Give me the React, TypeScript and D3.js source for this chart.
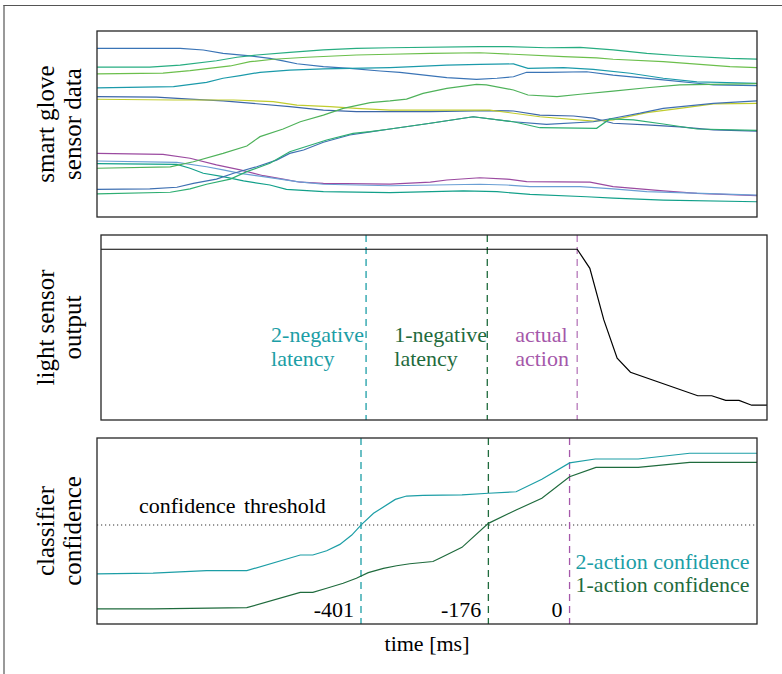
import React from 'react';
import * as d3 from 'd3';

// x of every panel is a frame index 0..100 across the recording window
// event markers (2-negative, 1-negative, actual action) differ a bit per panel
const lightEventFrames = [39.8, 58.0, 71.5];
const confEventFrames = [40.0, 59.3, 71.6];
const eventLabels = ['-401', '-176', '0'];
const eventNames = [['2-negative', 'latency'], ['1-negative', 'latency'], ['actual', 'action']];
const eventColors = ['#1c9ea6', '#1f6b3d', '#a558aa'];

// smart glove sensors, [frame, value 0..100]
const glove1 = [[0, 90.7], [12.6, 90.7], [16.1, 89.8], [19.1, 88.0], [23.2, 86.6], [26.2, 85.3], [28.2, 83.9], [30.3, 82.4], [34.3, 80.8], [38.3, 79.9], [42.9, 78.5], [45.9, 77.8], [53.0, 74.9], [57.5, 74.0], [60.6, 74.6], [63.1, 75.4], [65.1, 77.8], [68.1, 77.8], [74.2, 78.1], [78.2, 76.3], [85.8, 73.7], [90.9, 71.9], [93.4, 71.0], [100, 70.6]];
const glove2 = [[0, 80.6], [8.0, 80.6], [12.6, 81.7], [18.1, 84.0], [21.2, 85.9], [24.2, 87.1], [29.2, 88.5], [34.3, 89.8], [39.3, 90.7], [44.4, 91.0], [58.0, 91.6], [62.1, 91.6], [68.1, 91.0], [73.2, 91.2], [78.2, 89.8], [83.3, 88.0], [88.3, 86.7], [95.9, 85.3], [100, 84.9]];
const glove3 = [[0, 77.0], [10.0, 77.4], [14.1, 78.7], [20.2, 81.2], [23.2, 83.5], [26.7, 84.8], [31.8, 85.9], [39.3, 87.1], [44.4, 87.5], [50.5, 88.0], [58.0, 88.3], [63.1, 87.5], [70.7, 86.2], [75.7, 85.6], [78.2, 84.8], [85.8, 83.5], [95.9, 80.8], [100, 80.3]];
const glove4 = [[0, 69.4], [11.6, 70.1], [16.6, 72.4], [19.1, 74.6], [21.7, 76.0], [24.7, 77.8], [29.2, 79.0], [34.3, 79.6], [44.4, 80.3], [47.9, 80.8], [53.0, 81.7], [58.0, 82.1], [63.1, 82.3], [65.3, 79.9], [70.7, 80.3], [75.2, 79.4], [80.8, 77.3], [85.8, 74.6], [90.9, 72.7], [100, 71.9]];
const glove5 = [[0, 64.7], [9.0, 64.4], [14.1, 63.4], [19.1, 62.4], [24.2, 60.9], [29.2, 59.3], [34.3, 57.5], [39.3, 56.6], [50.5, 56.6], [59.5, 57.2], [63.1, 57.0], [67.1, 54.8], [72.2, 54.3], [75.2, 53.2], [78.2, 50.4], [83.3, 49.5], [88.3, 48.5], [93.4, 46.8], [100, 46.2]];
const glove6 = [[0, 63.3], [11.6, 62.9], [20.7, 62.9], [26.7, 62.0], [30.3, 60.2], [35.3, 59.3], [39.3, 58.4], [44.4, 57.5], [59.5, 57.5], [67.1, 53.9], [75.2, 51.6], [78.2, 52.2], [83.3, 56.1], [88.3, 58.4], [93.4, 60.8], [100, 61.1]];
const glove7 = [[0, 34.2], [10.0, 33.7], [14.1, 31.6], [18.1, 28.0], [21.7, 25.3], [25.2, 22.2], [28.2, 20.4], [30.8, 18.7], [34.3, 18.1], [44.4, 17.7], [50.5, 18.7], [53.0, 19.9], [58.0, 21.1], [62.1, 20.4], [65.1, 19.0], [74.7, 18.7], [78.2, 16.3], [85.8, 14.0], [90.9, 12.7], [100, 11.5]];
const glove8 = [[0, 30.1], [12.1, 29.4], [16.6, 27.0], [19.1, 25.3], [21.7, 23.5], [25.2, 21.7], [30.3, 19.0], [34.3, 17.6], [44.4, 16.8], [58.0, 17.6], [62.1, 17.2], [65.6, 16.3], [73.2, 16.3], [78.2, 15.1], [83.3, 13.6], [100, 11.8]];
const glove9 = [[0, 28.7], [12.1, 28.3], [14.1, 26.2], [16.1, 23.5], [19.1, 21.7], [22.2, 19.4], [26.2, 17.2], [28.7, 14.9], [34.3, 13.6], [44.4, 13.1], [55.5, 14.0], [60.6, 13.6], [65.6, 12.2], [74.2, 10.9], [78.2, 10.1], [85.8, 9.1], [100, 8.2]];
const glove10 = [[0, 26.2], [11.1, 27.0], [14.6, 29.7], [19.1, 34.2], [22.7, 38.2], [24.7, 43.2], [28.2, 47.3], [30.8, 51.2], [34.3, 54.8], [37.3, 58.4], [41.4, 61.5], [44.4, 62.4], [46.9, 63.4], [49.4, 66.5], [53.0, 69.2], [57.5, 71.3], [59.0, 71.0], [63.1, 68.3], [65.3, 65.6], [69.7, 64.7], [73.2, 66.0], [78.2, 67.7], [83.3, 69.5], [88.3, 71.0], [100, 71.7]];
const glove11 = [[0, 14.9], [8.0, 15.1], [12.1, 16.0], [14.6, 18.1], [18.1, 20.4], [20.7, 23.5], [24.2, 27.0], [27.2, 30.6], [29.2, 34.2], [31.3, 36.0], [34.3, 40.2], [38.3, 44.1], [40.9, 45.5], [44.4, 47.3], [50.5, 50.4], [57.0, 53.9], [63.1, 51.2], [68.1, 49.8], [75.2, 51.2], [78.2, 53.1], [82.3, 55.8], [85.8, 58.4], [93.4, 61.1], [100, 62.4]];
const glove12 = [[0, 12.4], [11.1, 13.3], [14.1, 15.1], [16.6, 17.6], [20.2, 20.4], [22.7, 24.4], [26.2, 28.9], [29.2, 35.1], [34.8, 41.4], [38.8, 45.0], [41.4, 45.9], [44.4, 47.3], [50.5, 50.4], [57.0, 53.9], [63.1, 51.2], [67.1, 48.0], [75.7, 47.7], [77.7, 52.7], [81.3, 52.2], [85.8, 50.0], [90.9, 47.3], [100, 46.6]];
const gloveSeries = [glove1, glove2, glove3, glove4, glove5, glove6, glove7, glove8, glove9, glove10, glove11, glove12];
const gloveColors = ['#3a74b6', '#27ad81', '#6cbf4c', '#1b9aaa', '#3c66a8', '#c0cc2e', '#9b4aa0', '#6a9fd4', '#12a08a', '#4fb25a', '#3f70b2', '#2eae72'];

// light sensor output (normalised)
const lightFrames = [0, 71.5, 73.4, 75.5, 77.5, 79.5, 89.6, 91.7, 93.8, 95.8, 97.7, 100];
const lightValues = [0.923, 0.923, 0.820, 0.541, 0.334, 0.258, 0.131, 0.131, 0.106, 0.106, 0.080, 0.080];

// classifier confidence
const conf2Frames = [0, 8.5, 16.6, 22.7, 30.8, 32.7, 34.8, 36.8, 38.6, 40.1, 41.9, 45.2, 46.9, 49.4, 55.3, 59.3, 63.5, 67.4, 71.6, 75.5, 82.0, 89.8, 100];
const conf2Values = [0.269, 0.273, 0.287, 0.287, 0.371, 0.371, 0.394, 0.428, 0.478, 0.536, 0.595, 0.670, 0.688, 0.692, 0.694, 0.703, 0.711, 0.778, 0.866, 0.887, 0.887, 0.918, 0.918];
const conf1Frames = [0, 8.5, 22.7, 30.8, 32.7, 34.8, 37.3, 39.3, 41.1, 43.4, 45.4, 47.4, 50.9, 52.0, 55.3, 59.3, 63.5, 67.4, 71.6, 75.6, 82.0, 89.8, 100];
const conf1Values = [0.081, 0.081, 0.088, 0.170, 0.170, 0.192, 0.219, 0.246, 0.276, 0.299, 0.313, 0.324, 0.336, 0.355, 0.412, 0.541, 0.613, 0.676, 0.792, 0.842, 0.842, 0.869, 0.869];
const threshold = 0.532;

const FONT = '"Liberation Serif", "Times New Roman", serif';
const FS = 22;

const App = () => {
  const W = 782, H = 674;
  const top = { x0: 97, x1: 757, y0: 31, y1: 217 };
  const mid = { x0: 101, x1: 767, y0: 235, y1: 420 };
  const bot = { x0: 97, x1: 757, y0: 438, y1: 624 };

  const xTop = d3.scaleLinear().domain([0, 100]).range([top.x0, top.x1]);
  const yTop = d3.scaleLinear().domain([0, 100]).range([top.y1, top.y0]);
  const xMid = d3.scaleLinear().domain([0, 100]).range([mid.x0, mid.x1]);
  const yMid = d3.scaleLinear().domain([0, 1]).range([mid.y1, mid.y0]);
  const xBot = d3.scaleLinear().domain([0, 100]).range([bot.x0, bot.x1]);
  const yBot = d3.scaleLinear().domain([0, 1]).range([bot.y1, bot.y0]);

  const gloveLine = d3.line<number[]>().x(d => xTop(d[0])).y(d => yTop(d[1]));
  const lightLine = d3.line<number>().x((d, i) => xMid(lightFrames[i])).y(d => yMid(d));
  const conf2Line = d3.line<number>().x((d, i) => xBot(conf2Frames[i])).y(d => yBot(d));
  const conf1Line = d3.line<number>().x((d, i) => xBot(conf1Frames[i])).y(d => yBot(d));

  const box = (p: any) => (
    <rect x={p.x0} y={p.y0} width={p.x1 - p.x0} height={p.y1 - p.y0} fill="none" stroke="#262626" strokeWidth={1.3} />
  );

  const textOffsets = [95, 93, 62];

  return (
    <svg width={W} height={H} style={{ position: 'absolute', left: 0, top: 0, background: '#fff' }} fontFamily={FONT} fontSize={FS}>
      {/* outer frame (top and left) */}
      <line x1={3.5} y1={5.5} x2={W} y2={5.5} stroke="#555" strokeWidth={1.2} />
      <line x1={4} y1={5} x2={4} y2={H} stroke="#555" strokeWidth={1.2} />

      {/* y labels */}
      {[['smart glove', 'sensor data', top], ['light sensor', 'output', mid], ['classifier', 'confidence', bot]].map(([a, b, p]: any, i) => {
        const cy = (p.y0 + p.y1) / 2;
        return (
          <g key={i} fontSize={25}>
            <text transform={`translate(54,${cy}) rotate(-90)`} textAnchor="middle">{a}</text>
            <text transform={`translate(81,${cy}) rotate(-90)`} textAnchor="middle">{b}</text>
          </g>
        );
      })}

      {/* smart glove panel */}
      <g>
        {gloveSeries.map((s, i) => (
          <path key={i} d={gloveLine(s) || ''} fill="none" stroke={gloveColors[i]} strokeWidth={1.2} />
        ))}
        {box(top)}
      </g>

      {/* light sensor panel */}
      <g>
        {lightEventFrames.map((f, i) => (
          <line key={i} x1={xMid(f)} x2={xMid(f)} y1={mid.y0} y2={mid.y1} stroke={eventColors[i]} strokeWidth={1.3} strokeDasharray="7,5" opacity={i === 2 ? 0.8 : 1} />
        ))}
        <path d={lightLine(lightValues) || ''} fill="none" stroke="#000" strokeWidth={1.2} />
        {eventNames.map((n, i) => (
          <text key={i} y={342} fill={eventColors[i]}>
            <tspan x={xMid(lightEventFrames[i]) - textOffsets[i]}>{n[0]}</tspan>
            <tspan x={xMid(lightEventFrames[i]) - textOffsets[i]} dy={23.5}>{n[1]}</tspan>
          </text>
        ))}
        {box(mid)}
      </g>

      {/* classifier panel */}
      <g>
        <line x1={bot.x0} x2={bot.x1} y1={yBot(threshold)} y2={yBot(threshold)} stroke="#333" strokeWidth={1.1} strokeDasharray="1.2,2.8" />
        {confEventFrames.map((f, i) => (
          <line key={i} x1={xBot(f)} x2={xBot(f)} y1={bot.y0} y2={bot.y1} stroke={eventColors[i]} strokeWidth={1.3} strokeDasharray="7,5" />
        ))}
        <path d={conf2Line(conf2Values) || ''} fill="none" stroke="#1c9ea6" strokeWidth={1.2} />
        <path d={conf1Line(conf1Values) || ''} fill="none" stroke="#1f6b3d" strokeWidth={1.2} />
        <text x={139} y={513} wordSpacing={3}>confidence threshold</text>
        <text x={xBot(confEventFrames[2]) + 6} y={569} fill="#1c9ea6">2-action confidence</text>
        <text x={xBot(confEventFrames[2]) + 6} y={592} fill="#1f6b3d">1-action confidence</text>
        {eventLabels.map((l, i) => (
          <text key={i} x={xBot(confEventFrames[i]) - 7} y={617} textAnchor="end">{l}</text>
        ))}
        {box(bot)}
      </g>

      <text x={427} y={651} textAnchor="middle">time [ms]</text>
    </svg>
  );
};

export default App;
